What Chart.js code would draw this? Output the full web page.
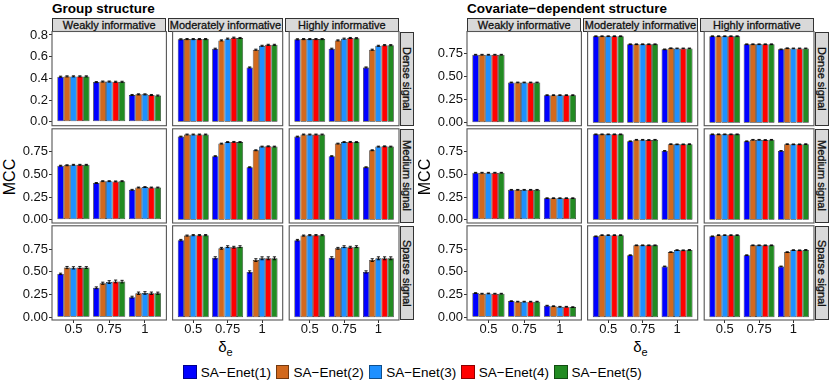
<!DOCTYPE html>
<html><head><meta charset="utf-8">
<script src="https://cdn.jsdelivr.net/npm/chart.js@4.4.0/dist/chart.umd.min.js"></script>
<style>
body{margin:0;background:#fff;width:830px;height:381px;overflow:hidden;position:relative;font-family:"Liberation Sans",Arial,sans-serif;}
.abs{position:absolute;}
canvas{position:absolute;}
.title{font-weight:bold;font-size:13.5px;line-height:1;color:#000;white-space:nowrap;}
.strip{position:absolute;background:#d9d9d9;border:1px solid #333;box-sizing:border-box;display:flex;align-items:center;justify-content:center;font-size:11px;color:#111;white-space:nowrap;overflow:hidden;-webkit-text-stroke:0.3px #111;}
.vtext{writing-mode:vertical-rl;}
.ylab{position:absolute;font-size:16px;color:#000;white-space:nowrap;transform:translate(-50%,-50%) rotate(-90deg);line-height:1;}
.xlab{position:absolute;font-size:15px;color:#000;white-space:nowrap;transform:translateX(-50%);line-height:1;}
.xlab sub{font-size:11px;vertical-align:-4px;}
#legend{position:absolute;left:0;width:830px;top:364px;height:16px;display:flex;justify-content:center;align-items:center;font-size:13.5px;color:#000;}
.key{width:13.5px;height:13.5px;box-sizing:border-box;border:1px solid rgba(0,0,0,0.45);margin-right:4px;}
.lt{margin-right:5px;white-space:nowrap;}
</style>
</head>
<body>
<script>
// ---------------- data ----------------
const methods = ['SA\u2212Enet(1)','SA\u2212Enet(2)','SA\u2212Enet(3)','SA\u2212Enet(4)','SA\u2212Enet(5)'];
const deltaE = ['0.5','0.75','1'];
const informativeness = ['Weakly informative','Moderately informative','Highly informative'];
const signals = ['Dense signal','Medium signal','Sparse signal'];
const structures = ['Group structure','Covariate\u2212dependent structure'];
const yLabel = 'MCC';

const yTicksDense1 = [0, 0.2, 0.4, 0.6, 0.8];
const yTicksQuarter = [0, 0.25, 0.5, 0.75];

// Group structure: each row = one method, values at delta_e = 0.5, 0.75, 1
const grp_dense_weak = [[0.415,0.365,0.246],[0.418,0.370,0.252],[0.418,0.370,0.252],[0.418,0.368,0.246],[0.418,0.368,0.241]];
const grp_dense_mod  = [[0.760,0.673,0.500],[0.762,0.750,0.664],[0.762,0.766,0.700],[0.762,0.775,0.709],[0.762,0.772,0.709]];
const grp_dense_high = [[0.760,0.673,0.500],[0.762,0.750,0.664],[0.762,0.766,0.700],[0.762,0.772,0.706],[0.762,0.770,0.706]];
const grp_med_weak   = [[0.595,0.405,0.330],[0.600,0.425,0.355],[0.605,0.425,0.360],[0.605,0.422,0.355],[0.605,0.425,0.355]];
const grp_med_mod    = [[0.915,0.700,0.578],[0.938,0.838,0.765],[0.938,0.855,0.805],[0.938,0.857,0.808],[0.938,0.855,0.805]];
const grp_med_high   = [[0.915,0.700,0.578],[0.938,0.838,0.765],[0.938,0.855,0.805],[0.938,0.857,0.808],[0.938,0.855,0.805]];
const grp_sparse_weak= [[0.478,0.325,0.222],[0.548,0.375,0.265],[0.545,0.388,0.268],[0.548,0.395,0.265],[0.548,0.393,0.265]];
const grp_sparse_mod = [[0.850,0.655,0.500],[0.900,0.760,0.630],[0.905,0.778,0.650],[0.905,0.772,0.650],[0.905,0.778,0.650]];
const grp_sparse_high= [[0.850,0.655,0.500],[0.900,0.760,0.630],[0.905,0.778,0.650],[0.905,0.772,0.650],[0.905,0.778,0.650]];

// Covariate-dependent structure
const cov_dense_weak = [[0.735,0.435,0.298],[0.735,0.435,0.298],[0.735,0.435,0.298],[0.735,0.435,0.298],[0.735,0.435,0.298]];
const cov_dense_mod  = [[0.935,0.848,0.793],[0.935,0.848,0.805],[0.935,0.848,0.803],[0.935,0.848,0.803],[0.935,0.848,0.803]];
const cov_dense_high = [[0.935,0.848,0.793],[0.935,0.848,0.805],[0.935,0.848,0.803],[0.935,0.848,0.803],[0.935,0.848,0.803]];
const cov_med_weak   = [[0.518,0.330,0.238],[0.518,0.330,0.238],[0.518,0.330,0.238],[0.518,0.330,0.238],[0.518,0.330,0.238]];
const cov_med_mod    = [[0.940,0.864,0.758],[0.940,0.880,0.832],[0.940,0.880,0.830],[0.940,0.878,0.830],[0.940,0.880,0.832]];
const cov_med_high   = [[0.940,0.864,0.758],[0.940,0.880,0.832],[0.940,0.880,0.830],[0.940,0.878,0.830],[0.940,0.880,0.832]];
const cov_sparse_weak= [[0.267,0.178,0.128],[0.260,0.172,0.122],[0.262,0.172,0.116],[0.260,0.172,0.116],[0.260,0.172,0.112]];
const cov_sparse_mod = [[0.892,0.684,0.560],[0.905,0.793,0.718],[0.905,0.793,0.740],[0.905,0.793,0.738],[0.905,0.793,0.742]];
const cov_sparse_high= [[0.892,0.684,0.560],[0.905,0.793,0.718],[0.905,0.793,0.740],[0.905,0.793,0.738],[0.905,0.793,0.742]];

// error bar half-widths
const err_small_grp  = [[0.005,0.005,0.005],[0.005,0.005,0.005],[0.005,0.005,0.005],[0.005,0.005,0.005],[0.005,0.005,0.005]];
const err_grp_sparse_weak = [[0.008,0.010,0.010],[0.012,0.012,0.013],[0.012,0.015,0.014],[0.012,0.015,0.013],[0.010,0.014,0.012]];
const err_grp_sparse_mod  = [[0.008,0.012,0.012],[0.006,0.010,0.015],[0.006,0.010,0.016],[0.006,0.010,0.016],[0.006,0.010,0.016]];
const err_small_cov  = [[0.004,0.004,0.004],[0.004,0.004,0.004],[0.004,0.004,0.004],[0.004,0.004,0.004],[0.004,0.004,0.004]];

// ---------------- layout / style ----------------
const FONT = "'Liberation Sans', Arial, sans-serif";
const colors = ['#0000FF','#D2691E','#1E90FF','#FF0000','#228B22'];
const G = {colX:[52,168.3,284.6], W:114.4, rowY:[31.5,128.8,225.8], H:94.2, stripTop:18.3, half:415};

const halves = [
  { vals:[[grp_dense_weak,grp_dense_mod,grp_dense_high],[grp_med_weak,grp_med_mod,grp_med_high],[grp_sparse_weak,grp_sparse_mod,grp_sparse_high]],
    errs:[[err_small_grp,err_small_grp,err_small_grp],[err_small_grp,err_small_grp,err_small_grp],[err_grp_sparse_weak,err_grp_sparse_mod,err_grp_sparse_mod]],
    yr:[[-0.037,0.832],[-0.035,1.001],[-0.030,1.008]], yt:[yTicksDense1,yTicksQuarter,yTicksQuarter], dec:[1,2,2] },
  { vals:[[cov_dense_weak,cov_dense_mod,cov_dense_high],[cov_med_weak,cov_med_mod,cov_med_high],[cov_sparse_weak,cov_sparse_mod,cov_sparse_high]],
    errs:[[err_small_cov,err_small_cov,err_small_cov],[err_small_cov,err_small_cov,err_small_cov],[err_small_cov,err_small_cov,err_small_cov]],
    yr:[[-0.032,0.986],[-0.035,1.001],[-0.030,1.008]], yt:[yTicksQuarter,yTicksQuarter,yTicksQuarter], dec:[2,2,2] }
];

const errPlugin = {
  id:'errbars',
  afterDatasetsDraw(chart){
    const ctx = chart.ctx, ys = chart.scales.y;
    ctx.save();
    ctx.strokeStyle = '#000'; ctx.lineWidth = 0.9;
    chart.data.datasets.forEach((ds,i)=>{
      const meta = chart.getDatasetMeta(i);
      meta.data.forEach((bar,j)=>{
        const v = ds.data[j].y, e = ds.err[j];
        const y1 = ys.getPixelForValue(v-e), y2 = ys.getPixelForValue(v+e);
        const x = bar.x;
        ctx.beginPath();
        ctx.moveTo(x,y1); ctx.lineTo(x,y2);
        ctx.moveTo(x-1.6,y1); ctx.lineTo(x+1.6,y1);
        ctx.moveTo(x-1.6,y2); ctx.lineTo(x+1.6,y2);
        ctx.stroke();
      });
    });
    ctx.restore();
  }
};
const borderPlugin = {
  id:'panelBorder',
  afterDraw(chart){
    const a = chart.chartArea, ctx = chart.ctx;
    ctx.save(); ctx.strokeStyle = '#555'; ctx.lineWidth = 1.1;
    ctx.strokeRect(a.left, a.top, a.right-a.left, a.bottom-a.top);
    ctx.restore();
  }
};

function addDiv(cls, html, style){
  const d = document.createElement('div');
  d.className = cls; d.innerHTML = html;
  Object.assign(d.style, style);
  document.body.appendChild(d);
  return d;
}

function facet(h, r, c){
  const hf = halves[h];
  const ox = h*G.half;
  const x0 = ox + G.colX[c], y0 = G.rowY[r];
  const first = c===0, bottom = r===2;
  const left = first ? ox : Math.floor(x0) - 4;
  const top = Math.floor(y0) - 8;
  const axisW = x0 - left;
  const padL = first ? 0 : x0 - left;
  const right = Math.ceil(x0 + G.W) + 4;
  const padR = right - (x0 + G.W);
  const xAxisH = bottom ? 24 : 0;
  const bot = Math.ceil(y0 + G.H) + xAxisH + 8;
  const padB = bot - (y0 + G.H) - xAxisH;
  const padT = y0 - top;
  const cv = document.createElement('canvas');
  cv.width = right-left; cv.height = bot-top;
  cv.style.left = left+'px'; cv.style.top = top+'px';
  cv.style.width = (right-left)+'px'; cv.style.height = (bot-top)+'px';
  document.body.appendChild(cv);
  const vals = hf.vals[r][c], errs = hf.errs[r][c];
  const ticksY = hf.yt[r], dec = hf.dec[r];
  new Chart(cv, {
    type:'bar',
    data:{ datasets: methods.map((m,k)=>({
      label:m,
      data: vals[k].map((v,i)=>({x:i+1, y:v})),
      err: errs[k],
      backgroundColor: colors[k],
      borderColor: 'rgba(0,0,0,0.85)',
      borderWidth: 0.7,
      borderSkipped: false,
      categoryPercentage: 0.9,
      barPercentage: 1.0
    }))},
    options:{
      responsive:false, animation:false, events:[],
      layout:{padding:{left:padL, right:padR, top:padT, bottom:padB}},
      plugins:{legend:{display:false}, tooltip:{enabled:false}},
      scales:{
        x:{ type:'linear', min:0.4, max:3.6, offset:false, display:bottom,
            afterBuildTicks:s=>{ s.ticks = deltaE.map((d,i)=>({value:i+1})); },
            afterFit:s=>{ s.height = xAxisH; s.paddingLeft = 0; s.paddingRight = 0; },
            ticks:{ autoSkip:false, maxRotation:0, minRotation:0, padding:0, color:'#111',
                    font:{family:FONT, size:13, lineHeight:1},
                    callback:(v)=> deltaE[Math.round(v)-1] },
            grid:{ display:true, drawOnChartArea:false, drawTicks:true, tickLength:3, color:'#333', offset:false },
            border:{display:false}
        },
        y:{ type:'linear', min:hf.yr[r][0], max:hf.yr[r][1], display:first,
            afterBuildTicks:s=>{ s.ticks = ticksY.map(v=>({value:v})); },
            afterFit:s=>{ s.width = axisW; s.paddingTop = 0; s.paddingBottom = 0; },
            ticks:{ padding:1, color:'#111', font:{family:FONT, size:13, lineHeight:1},
                    callback:(v)=> Number(v).toFixed(dec) },
            grid:{ display:true, drawOnChartArea:false, drawTicks:true, tickLength:3, color:'#333' },
            border:{display:false}
        }
      }
    },
    plugins:[errPlugin, borderPlugin]
  });
}

for (let h=0; h<2; h++){
  const ox = h*G.half;
  addDiv('abs title', structures[h], {left:(ox+52)+'px', top:'1.5px'});
  for (let c=0;c<3;c++){
    addDiv('strip', informativeness[c], {left:(ox+G.colX[c])+'px', top:G.stripTop+'px', width:G.W+'px', height:(G.rowY[0]-G.stripTop+0.5)+'px'});
  }
  for (let r=0;r<3;r++){
    addDiv('strip', '<span class="vtext">'+signals[r]+'</span>', {left:(ox+400)+'px', top:G.rowY[r]+'px', width:'13.8px', height:G.H+'px'});
  }
  addDiv('ylab', yLabel, {left:(ox+9.5)+'px', top:'177px'});
  addDiv('xlab', '\u03b4<sub>e</sub>', {left:(ox+G.colX[0]+ (G.colX[2]+G.W-G.colX[0])/2)+'px', top:'339px'});
  for (let r=0;r<3;r++) for (let c=0;c<3;c++) facet(h,r,c);
}

const lg = document.createElement('div'); lg.id='legend';
methods.forEach((m,k)=>{
  const key = document.createElement('div'); key.className='key'; key.style.background = colors[k];
  const t = document.createElement('div'); t.className='lt'; t.textContent = m;
  lg.appendChild(key); lg.appendChild(t);
});
document.body.appendChild(lg);
</script>
</body></html>
